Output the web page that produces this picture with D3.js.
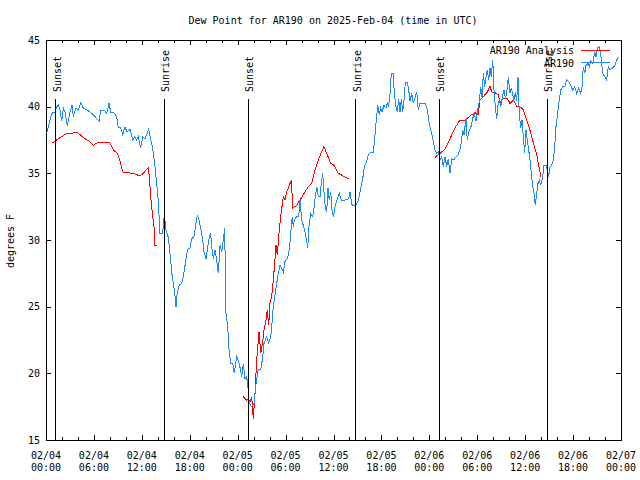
<!DOCTYPE html>
<html><head><meta charset="utf-8">
<script src="https://cdn.jsdelivr.net/npm/d3@7"></script>
<style>
body{margin:0;background:#fff}
svg text{font-family:"DejaVu Sans Mono",monospace;font-size:10px;fill:#000}
</style></head><body>
<svg id="c" width="640" height="480"></svg>
<script>
// ---- data (hours since 2025-02-04 00:00 UTC, dew point in °F) ----
const chartTitle = "Dew Point for AR190 on 2025-Feb-04 (time in UTC)";
const yAxisLabel = "degrees F";
const seriesNames = ["AR190 Analysis", "AR190"];
const yTickValues = [15, 20, 25, 30, 35, 40, 45];
const xMajorHours = [0, 6, 12, 18, 24, 30, 36, 42, 48, 54, 60, 66, 72];
const xMinorHours = [2, 4, 8, 10, 14, 16, 20, 22, 26, 28, 32, 34, 38, 40, 44, 46, 50, 52, 56, 58, 62, 64, 68, 70];
const sunNames = ["Sunset", "Sunrise", "Sunset", "Sunrise", "Sunset", "Sunrise"];
const sunHours = [1.25, 14.78, 25.33, 38.78, 49.25, 62.77];

const obsDay1 = [[0.09,38.0],[0.5,39.0],[0.71,39.5],[1.13,39.6],[1.34,40.0],[1.54,40.1],[1.75,39.75],[1.97,38.9],[2.17,39.9],[2.38,39.6],[2.67,38.55],[3.0,39.6],[3.26,40.1],[3.42,39.25],[3.76,39.9],[4.04,39.75],[4.35,40.3],[4.67,39.9],[5.1,39.75],[5.51,39.6],[5.92,39.4],[6.35,39.1],[6.67,38.9],[6.85,39.75],[7.26,39.75],[7.6,39.5],[7.89,40.25],[8.1,39.6],[8.43,39.6],[8.85,39.25],[9.05,38.4],[9.35,38.45],[9.6,37.9],[9.89,38.45],[10.18,38.1],[10.52,38.3],[10.86,37.5],[11.14,37.75],[11.36,37.5],[11.56,37.75],[11.86,36.9],[12.11,37.75],[12.4,37.6],[12.61,37.9],[12.86,38.3],[13.11,37.5],[13.36,36.9],[13.65,35.5],[13.86,34.25],[14.06,32.9],[14.27,30.5],[14.61,30.5],[14.81,31.9],[15.03,30.75],[15.31,30.2],[15.61,28.5],[15.78,27.4],[15.94,26.75],[16.12,26.0],[16.28,25.0],[16.44,26.1],[16.69,26.6],[16.99,26.75],[17.19,27.25],[17.41,28.1],[17.62,28.9],[17.82,29.4],[18.03,29.4],[18.24,30.1],[18.53,30.25],[18.78,31.25],[18.95,31.9],[19.2,31.4],[19.37,30.9],[19.62,30.0],[19.78,29.1],[20.04,28.6],[20.25,29.5],[20.45,30.25],[20.62,30.5],[20.75,29.5],[20.95,28.6],[21.16,29.25],[21.37,28.5],[21.58,27.5],[21.79,29.6],[22.0,29.1],[22.2,30.0],[22.38,30.9],[22.45,27.75],[22.54,24.5],[22.75,23.5],[22.95,21.5],[23.13,20.75],[23.38,20.75],[23.58,20.0],[23.88,21.25]];
const obsDay2 = [[24.2,20.75],[24.5,19.75],[24.71,20.7],[24.92,19.6],[25.13,19.75],[25.33,18.7],[25.46,17.75],[25.76,17.5],[26.05,17.75],[26.3,19.25],[26.59,20.3],[26.89,20.25],[27.14,21.25],[27.3,22.25],[27.64,22.75],[27.89,22.25],[28.14,22.75],[28.3,23.75],[28.46,25.0],[28.71,26.0],[28.89,26.75],[29.09,27.5],[29.3,28.1],[29.51,27.9],[29.72,27.6],[29.93,28.4],[30.22,28.6],[30.47,29.25],[30.64,30.5],[30.84,31.75],[30.97,31.0],[31.09,31.5],[31.39,31.75],[31.64,31.75],[31.81,33.0],[32.02,31.5],[32.31,30.9],[32.56,30.25],[32.77,29.4],[32.93,31.0],[33.15,32.0],[33.4,31.75],[33.56,32.4],[33.72,33.25],[33.9,34.0],[34.1,33.25],[34.31,33.25],[34.47,34.25],[34.65,35.0],[34.81,33.6],[34.97,32.5],[35.15,32.1],[35.31,33.9],[35.47,33.0],[35.65,33.6],[35.81,32.25],[35.98,31.75],[36.23,32.6],[36.48,33.1],[36.73,33.5],[36.98,33.0],[37.44,33.0],[37.9,33.1],[38.07,33.6],[38.28,32.7],[38.48,32.55],[38.82,32.6],[39.11,33.0],[39.41,33.9],[39.66,34.6],[39.86,35.5],[40.16,35.9],[40.36,36.4],[40.66,36.6],[40.99,36.6],[41.16,37.6],[41.32,38.75],[41.54,40.1],[41.74,39.4],[41.91,39.9],[42.07,39.6],[42.32,40.1],[42.57,39.9],[42.74,40.25],[42.91,40.0],[43.08,41.0],[43.24,42.5],[43.49,42.5],[43.61,41.0],[43.83,40.0],[43.99,39.6],[44.16,40.6],[44.33,39.6],[44.49,40.6],[44.67,39.6],[44.83,40.5],[44.99,41.8],[45.24,41.8],[45.42,41.25],[45.58,40.4],[45.79,41.0],[45.99,40.25],[46.24,40.75],[46.42,41.1],[46.62,39.75],[46.83,40.25],[47.5,40.25],[47.75,39.75],[47.92,39.0]];
const obsDay3 = [[48.08,38.5],[48.3,38.0],[48.5,37.4],[48.71,36.75],[48.92,36.5],[49.12,36.6],[49.34,36.0],[49.55,36.25],[49.75,35.5],[49.96,36.25],[50.18,35.5],[50.37,36.1],[50.59,35.0],[50.8,36.1],[51.09,36.0],[51.34,36.25],[51.63,36.4],[51.93,37.0],[52.18,38.25],[52.34,37.9],[52.59,39.1],[52.75,37.5],[53.0,38.25],[53.18,38.4],[53.43,39.1],[53.63,39.5],[53.84,38.9],[54.0,39.6],[54.26,40.4],[54.43,41.5],[54.6,40.75],[54.76,42.5],[54.93,41.5],[55.1,42.25],[55.26,42.75],[55.43,42.0],[55.6,42.9],[55.76,42.25],[55.94,43.5],[56.1,41.25],[56.26,40.0],[56.44,39.1],[56.6,40.1],[56.76,40.5],[56.94,40.0],[57.19,40.9],[57.35,41.25],[57.52,40.6],[57.69,41.0],[57.89,42.25],[58.1,41.0],[58.27,41.4],[58.44,40.9],[58.6,40.5],[58.77,41.1],[58.94,40.4],[59.1,42.25],[59.27,39.4],[59.44,38.4],[59.6,39.0],[59.77,37.75],[59.94,36.5],[60.1,38.25],[60.27,37.5],[60.44,36.75],[60.61,36.0],[60.77,35.0],[60.94,34.0],[61.11,33.5],[61.27,32.6],[61.44,33.5],[61.61,34.25],[61.77,34.5],[61.95,34.1],[62.2,34.75],[62.36,35.6],[62.61,35.6],[62.77,35.25],[62.95,34.75],[63.11,35.5],[63.32,35.6],[63.52,36.0],[63.7,37.0],[63.86,38.5],[64.07,39.5],[64.27,40.5],[64.45,41.25],[64.7,41.5],[64.95,41.5],[65.2,42.0],[65.45,41.9],[65.7,41.6],[65.95,41.25],[66.2,41.5],[66.45,41.0],[66.7,41.4],[66.95,41.0],[67.12,41.5],[67.28,43.0],[67.46,42.5],[67.62,43.1],[67.87,43.25],[68.03,43.0],[68.21,43.4],[68.46,43.25],[68.71,44.1],[68.87,43.75],[69.03,44.4],[69.28,44.5],[69.46,43.9],[69.58,43.25],[69.71,42.5],[69.96,42.25],[70.21,42.0],[70.41,43.0],[70.62,42.75],[70.96,42.9],[71.25,43.1],[71.54,43.6],[71.79,43.7]];

const analysis1 = [[0.71,37.25],[1.13,37.4],[1.54,37.6],[1.97,37.75],[2.59,38.0],[3.22,38.0],[3.84,38.1],[4.26,37.9],[4.88,37.6],[5.42,37.4],[5.92,37.1],[6.42,37.3],[7.18,37.3],[8.01,37.3],[8.43,36.75],[8.93,36.5],[9.27,35.9],[9.6,35.1],[10.18,35.05],[10.93,35.0],[11.36,34.9],[11.77,34.8],[12.18,35.0],[12.52,35.25],[12.81,35.4],[12.94,34.75],[13.11,33.25],[13.24,32.5],[13.36,31.75],[13.52,31.0],[13.65,29.6],[13.94,29.6]];
const analysis2 = [[24.71,18.25],[25.13,18.0],[25.33,18.1],[25.55,17.9],[25.76,18.25],[25.96,16.6],[26.17,18.5],[26.38,21.0],[26.67,23.1],[26.89,21.5],[27.14,22.4],[27.3,23.25],[27.55,24.0],[27.71,24.75],[27.89,23.6],[28.05,25.25],[28.26,25.75],[28.46,27.0],[28.64,28.25],[28.8,29.6],[28.96,28.9],[29.21,30.75],[29.46,32.1],[29.72,33.25],[29.93,33.0],[30.14,33.6],[30.47,34.1],[30.72,34.5],[30.9,32.4],[31.39,32.6],[31.81,33.0],[32.43,33.6],[32.85,34.0],[33.27,34.25],[33.68,35.25],[34.1,36.0],[34.44,36.5],[34.81,37.0],[35.22,36.4],[35.65,35.75],[36.06,35.6],[36.6,35.0],[37.23,34.8],[37.98,34.55]];
const analysis3 = [[48.71,36.2],[49.34,36.5],[49.96,36.8],[50.59,37.6],[51.21,38.4],[51.84,39.0],[52.47,39.0],[52.88,39.2],[53.3,39.4],[53.72,39.55],[54.1,39.4],[54.35,40.5],[54.76,40.75],[55.26,41.1],[55.6,41.55],[55.81,41.1],[56.22,41.05],[56.64,40.9],[56.85,40.25],[57.19,40.6],[57.76,40.6],[58.1,40.25],[58.52,40.5],[58.94,40.0],[59.44,39.95],[59.77,39.75],[60.19,39.0],[60.52,38.4],[60.82,37.75],[61.11,37.1],[61.44,36.4],[61.65,35.75],[61.86,35.1],[61.95,34.75]];

// ---- drawing ----
const svg = d3.select("#c");
const t0 = Date.UTC(2025, 1, 4);
const toDate = h => new Date(t0 + h * 3600000);
const x = d3.scaleUtc().domain([toDate(0), toDate(72)]).range([46, 621]);
const y = d3.scaleLinear().domain([15, 45]).range([440, 40]);
const blue = "#1e88ff", red = "#ff0000";

svg.append("rect").attr("width", 640).attr("height", 480).attr("fill", "#fff");

function styleAxis(g) {
  g.select(".domain").remove();
  g.selectAll("line").attr("stroke", "#000").attr("shape-rendering", "crispEdges");
  g.attr("font-family", null).attr("font-size", null);
  g.selectAll("text").attr("fill", "#000");
}
const majorDates = xMajorHours.map(toDate);
const minorDates = xMinorHours.map(toDate);

svg.append("g").attr("transform", "translate(0,440)")
  .call(d3.axisBottom(x).tickValues(majorDates).tickSize(-5).tickFormat("")).call(styleAxis);
svg.append("g").attr("transform", "translate(0,440)")
  .call(d3.axisBottom(x).tickValues(minorDates).tickSize(-3).tickFormat("")).call(styleAxis);
svg.append("g").attr("transform", "translate(0,40)")
  .call(d3.axisTop(x).tickValues(majorDates).tickSize(-5).tickFormat("")).call(styleAxis);
svg.append("g").attr("transform", "translate(0,40)")
  .call(d3.axisTop(x).tickValues(minorDates).tickSize(-3).tickFormat("")).call(styleAxis);
svg.append("g").attr("transform", "translate(46,0)")
  .call(d3.axisLeft(y).tickValues(yTickValues).tickSize(-5).tickPadding(6).tickFormat(d3.format("d"))).call(styleAxis);
svg.append("g").attr("transform", "translate(621,0)")
  .call(d3.axisRight(y).tickValues(yTickValues).tickSize(-5).tickFormat("")).call(styleAxis);

// x tick labels (two lines)
const fmtDay = d3.utcFormat("%m/%d"), fmtTime = d3.utcFormat("%H:%M");
const xl = svg.append("g").selectAll("text").data(majorDates).join("text")
  .attr("text-anchor", "middle").attr("transform", d => `translate(${x(d)},0)`);
xl.append("tspan").attr("x", 0).attr("y", 459).text(fmtDay);
xl.append("tspan").attr("x", 0).attr("y", 471).text(fmtTime);

// frame
svg.append("rect").attr("x", x.range()[0]).attr("y", y.range()[1])
  .attr("width", x.range()[1] - x.range()[0]).attr("height", y.range()[0] - y.range()[1])
  .attr("fill", "none").attr("stroke", "#000").attr("shape-rendering", "crispEdges");

// data lines
const line = d3.line().x(d => x(toDate(d[0]))).y(d => y(d[1]));
[analysis1, analysis2, analysis3].forEach(seg =>
  svg.append("path").attr("d", line(seg)).attr("fill", "none").attr("stroke", red)
    .attr("stroke-width", 1).attr("shape-rendering", "crispEdges"));
svg.append("path").attr("d", line(obsDay1.concat(obsDay2, obsDay3))).attr("fill", "none")
  .attr("stroke", blue).attr("stroke-width", 1).attr("shape-rendering", "crispEdges");

// sunrise / sunset markers
const sun = svg.append("g").selectAll("g").data(sunHours.map((h, i) => ({ h, name: sunNames[i] }))).join("g");
sun.append("line").attr("x1", d => x(toDate(d.h))).attr("x2", d => x(toDate(d.h)))
  .attr("y1", 99).attr("y2", y(15)).attr("stroke", "#000").attr("shape-rendering", "crispEdges");
sun.append("text").attr("transform", d => `translate(${x(toDate(d.h)) + 1.5},92) rotate(-90)`)
  .attr("dy", "0.35em").attr("text-anchor", "start").text(d => d.name);

// title and axis label
svg.append("text").attr("x", 333).attr("y", 24).attr("text-anchor", "middle").text(chartTitle);
svg.append("text").attr("transform", "translate(14,241) rotate(-90)").attr("text-anchor", "middle").text(yAxisLabel);

// legend
const legColors = [red, blue];
const leg = svg.append("g").selectAll("g").data(seriesNames).join("g")
  .attr("transform", (d, i) => `translate(0,${50 + i * 12.5})`);
leg.append("text").attr("x", 574).attr("y", 4).attr("text-anchor", "end").text(d => d);
leg.append("line").attr("x1", 581).attr("x2", 610).attr("y1", 0).attr("y2", 0)
  .attr("stroke", (d, i) => legColors[i]).attr("shape-rendering", "crispEdges");
</script>
</body></html>
